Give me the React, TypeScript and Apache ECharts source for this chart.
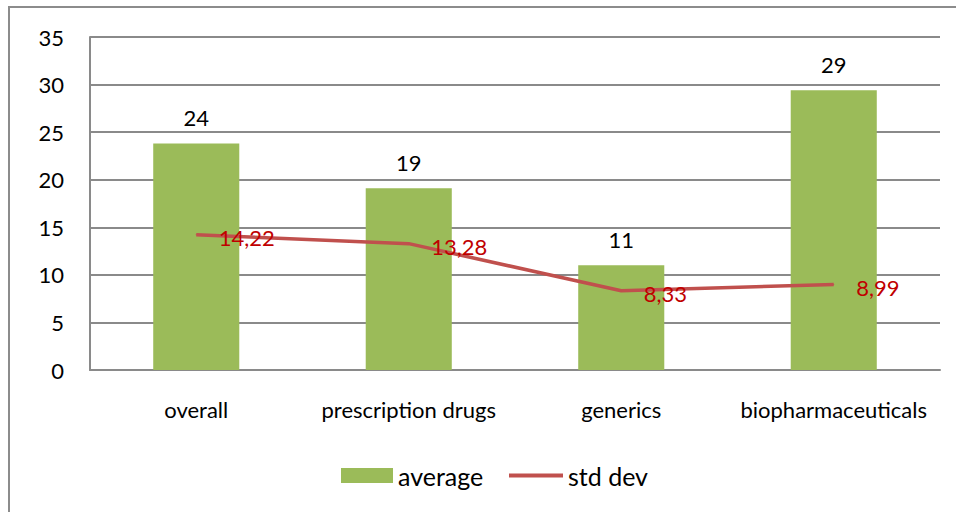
import React, { useEffect, useRef } from "react";
import * as echarts from "echarts";

// Category names along the x axis
const categories = ["overall", "prescription drugs", "generics", "biopharmaceuticals"];
// Average values (bars); labels show them rounded
const averageValues = [23.8, 19.1, 11.0, 29.4];
// Standard deviation values (line)
const stdDevValues = [14.22, 13.28, 8.33, 8.99];
// Y axis range
const yMin = 0;
const yMax = 35;
const yInterval = 5;

const FONT = "Lato, 'Open Sans', sans-serif";
const GRID_GRAY = "#8a8a8a";
const BAR_GREEN = "#9bbb59";
const LINE_RED = "#c0504d";

export default function App() {
  const ref = useRef<HTMLDivElement>(null);

  useEffect(() => {
    if (!ref.current) return;
    const chart = echarts.init(ref.current, null, { renderer: "svg" });
    const legendText = { fontFamily: FONT, fontSize: 25, color: "#000" };
    chart.setOption({
      animation: false,
      backgroundColor: "#ffffff",
      textStyle: { fontFamily: FONT },
      graphic: [
        {
          type: "rect",
          shape: { x: 9, y: 7, width: 960, height: 520 },
          style: { fill: "none", stroke: "#8c8c8c", lineWidth: 2 },
          silent: true,
        },
      ],
      grid: { left: 90, right: 16, top: 37, bottom: 142, containLabel: false },
      legend: [
        {
          top: 458,
          left: 336,
          itemWidth: 52,
          itemHeight: 15,
          textStyle: legendText,
          data: [{ name: "average", icon: "rect" }],
        },
        {
          top: 458,
          left: 504,
          itemWidth: 54,
          itemHeight: 4,
          textStyle: legendText,
          data: [{ name: "std dev", icon: "rect" }],
        },
      ],
      xAxis: {
        type: "category",
        data: categories,
        axisLine: { show: true, lineStyle: { color: GRID_GRAY, width: 2 } },
        axisTick: { show: false },
        axisLabel: { color: "#000", fontSize: 22, fontFamily: FONT, margin: 28, interval: 0 },
      },
      yAxis: {
        type: "value",
        min: yMin,
        max: yMax,
        interval: yInterval,
        axisLine: { show: true, lineStyle: { color: GRID_GRAY, width: 2 } },
        axisTick: { show: false },
        splitLine: { show: true, lineStyle: { color: GRID_GRAY, width: 2 } },
        axisLabel: { color: "#000", fontSize: 22, fontFamily: FONT, margin: 26 },
      },
      series: [
        {
          name: "average",
          type: "bar",
          data: averageValues,
          barWidth: "40.5%",
          itemStyle: { color: BAR_GREEN },
          label: {
            show: true,
            position: "top",
            distance: 15,
            color: "#000",
            fontSize: 22,
            fontFamily: FONT,
            formatter: (p: any) => String(Math.round(p.value)),
          },
          z: 2,
        },
        {
          name: "std dev",
          type: "line",
          data: stdDevValues,
          symbol: "circle",
          symbolSize: 1,
          showSymbol: true,
          lineStyle: { color: LINE_RED, width: 3.5 },
          itemStyle: { color: LINE_RED },
          label: {
            show: true,
            position: "right",
            distance: 22,
            offset: [0, 3],
            color: "#c00000",
            fontSize: 22,
            fontFamily: FONT,
            formatter: (p: any) => String(p.value).replace(".", ","),
          },
          z: 3,
        },
      ],
    });
    return () => chart.dispose();
  }, []);

  return (
    <div
      ref={ref}
      style={{ position: "fixed", left: 0, top: 0, width: 956, height: 512 }}
    />
  );
}
